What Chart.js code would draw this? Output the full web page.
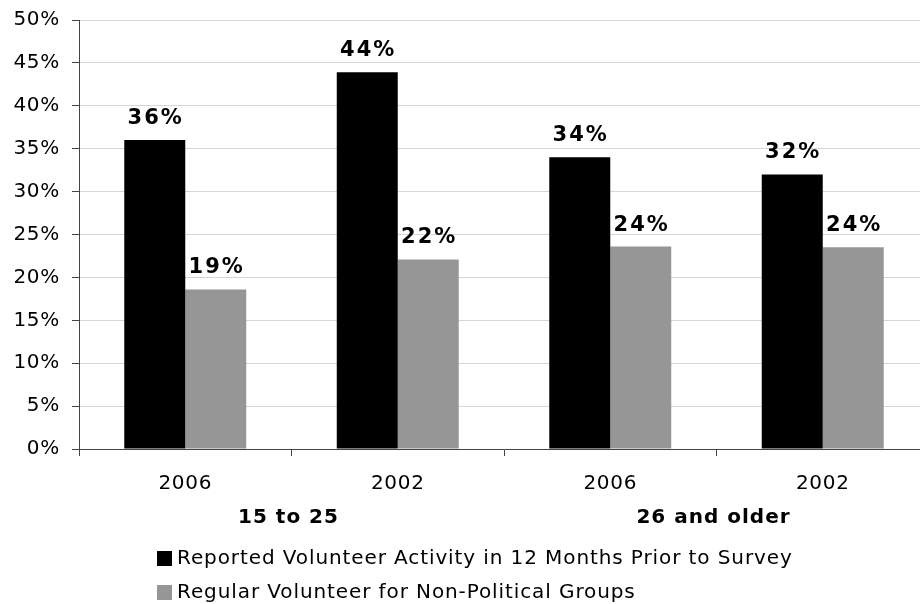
<!DOCTYPE html>
<html>
<head>
<meta charset="utf-8">
<title>Volunteer Activity</title>
<script src="https://cdn.jsdelivr.net/npm/chart.js@4.4.1/dist/chart.umd.min.js"></script>
<style>
    html, body { margin: 0; padding: 0; background: #fff; overflow: hidden; }
    #wrap { position: relative; width: 932px; height: 604px; }
</style>
</head>
<body>
<div id="wrap"><canvas id="volChart" width="932" height="604"></canvas></div>
<script>
// ---------- DATA ----------
const years = ['2006', '2002', '2006', '2002'];
const ageGroups = ['15 to 25', '26 and older'];
const reportedVolunteer = [36, 43.9, 34, 32];
const regularVolunteer = [18.6, 22.1, 23.6, 23.5];
const seriesNames = [
    'Reported Volunteer Activity in 12 Months Prior to Survey',
    'Regular Volunteer for Non-Political Groups'
];

const FONT = 'Verdana, "DejaVu Sans", sans-serif';

// ---------- PLUGIN: value labels, group labels, legend ----------
const extrasPlugin = {
    id: 'extras',
    beforeDraw(chart) {
        // the original text is a touch wider than DejaVu
        chart.ctx.letterSpacing = '0.7px';
    },
    afterDatasetsDraw(chart) {
        const ctx = chart.ctx;
        ctx.save();
        ctx.letterSpacing = '2px';
        ctx.fillStyle = '#000';
        ctx.font = 'bold 21px ' + FONT;
        ctx.textAlign = 'center';
        ctx.textBaseline = 'alphabetic';
        chart.data.datasets.forEach((ds, i) => {
            chart.getDatasetMeta(i).data.forEach((bar, j) => {
                ctx.fillText(Math.round(ds.data[j]) + '%', bar.x + 1, bar.y - 16);
            });
        });
        ctx.restore();
    },
    afterDraw(chart) {
        const ctx = chart.ctx;
        const x = chart.scales.x;
        ctx.save();
        ctx.letterSpacing = '1px';
        ctx.fillStyle = '#000';

        // group labels under the year ticks
        ctx.font = 'bold 20px ' + FONT;
        ctx.textAlign = 'center';
        ctx.textBaseline = 'middle';
        ageGroups.forEach((g, k) => {
            const cx = (x.getPixelForValue(k * 2) + x.getPixelForValue(k * 2 + 1)) / 2;
            ctx.fillText(g, cx - 3, 518);
        });

        // legend, left aligned rows
        ctx.letterSpacing = '0.9px';
        ctx.font = '20px ' + FONT;
        ctx.textAlign = 'left';
        chart.data.datasets.forEach((ds, i) => {
            const cy = 558 + i * 34;
            ctx.fillStyle = ds.backgroundColor;
            ctx.fillRect(157, cy - 7, 15, 15);
            ctx.fillStyle = '#000';
            ctx.fillText(ds.label, 177, cy + 1);
        });
        ctx.restore();
    }
};

// ---------- CHART ----------
const ctx = document.getElementById('volChart').getContext('2d');
new Chart(ctx, {
    type: 'bar',
    data: {
        labels: years,
        datasets: [{
            label: seriesNames[0],
            data: reportedVolunteer,
            backgroundColor: '#000000'
        }, {
            label: seriesNames[1],
            data: regularVolunteer,
            backgroundColor: '#969696'
        }]
    },
    options: {
        responsive: false,
        animation: false,
        layout: { padding: { top: 20, left: 0, right: 3, bottom: 0 } },
        categoryPercentage: 0.574,
        barPercentage: 1.0,
        plugins: {
            legend: { display: false },
            tooltip: { enabled: false }
        },
        scales: {
            x: {
                grid: {
                    offset: true,
                    drawOnChartArea: false,
                    tickLength: 7,
                    tickColor: '#444'
                },
                border: { color: '#444', width: 1 },
                ticks: {
                    color: '#000',
                    font: { family: FONT, size: 20 },
                    padding: 16
                },
                afterFit(scale) { scale.height = 155; }
            },
            y: {
                min: 0,
                max: 50,
                ticks: {
                    stepSize: 5,
                    color: '#000',
                    font: { family: FONT, size: 20 },
                    padding: 12,
                    callback: v => v + '%'
                },
                grid: {
                    color: '#d6d6d6',
                    tickLength: 7,
                    tickColor: '#444'
                },
                border: { color: '#444', width: 1 },
                afterFit(scale) {
                    scale.width = 79;
                    scale.paddingTop = 0;
                    scale.paddingBottom = 0;
                }
            }
        }
    },
    plugins: [extrasPlugin]
});
</script>
</body>
</html>
